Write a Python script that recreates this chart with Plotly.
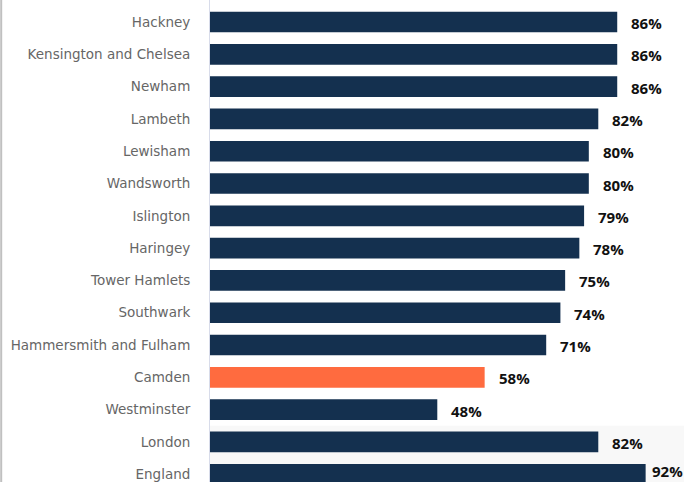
import plotly.graph_objects as go

categories = ["Hackney", "Kensington and Chelsea", "Newham", "Lambeth", "Lewisham",
              "Wandsworth", "Islington", "Haringey", "Tower Hamlets", "Southwark",
              "Hammersmith and Fulham", "Camden", "Westminster", "London", "England"]
values = [86, 86, 86, 82, 80, 80, 79, 78, 75, 74, 71, 58, 48, 82, 92]
highlight = "Camden"

NAVY = "#14304f"
ORANGE = "#ff6b3f"
colors = [ORANGE if c == highlight else NAVY for c in categories]
XMAX = 100.1

fig = go.Figure()
fig.add_trace(go.Bar(
    x=values, y=categories, orientation="h",
    marker=dict(color=colors, line=dict(width=0)),
    width=0.64, hoverinfo="skip",
))

px_per_unit = 474 / XMAX
for c, v in zip(categories, values):
    font = dict(family="Open Sans", size=15, color="#111111", weight="bold")
    if (XMAX - v) * px_per_unit < 14 + 31:
        # keep the label inside the chart: pin it to the right edge
        fig.add_annotation(x=1, xref="paper", y=c, text=f"{v}%", showarrow=False,
                           xanchor="right", xshift=0, yshift=3, borderpad=0, font=font)
    else:
        fig.add_annotation(x=v, y=c, text=f"{v}%", showarrow=False,
                           xanchor="left", xshift=12, yshift=-1, font=font)

# faint band behind the comparison rows
fig.add_shape(type="rect", xref="paper", yref="y", x0=0, x1=1, y0=12.5, y1=15,
              fillcolor="#f8f8f8", line=dict(width=0), layer="below")
# left border line
fig.add_shape(type="line", xref="paper", yref="paper", x0=-0.4405, x1=-0.4405, y0=0, y1=1,
              line=dict(color="#c0c0c0", width=2))

fig.update_layout(
    width=684, height=482,
    margin=dict(l=210, r=0, t=0, b=0),
    paper_bgcolor="white", plot_bgcolor="white",
    showlegend=False,
    bargap=0.36,
    xaxis=dict(range=[0, XMAX], visible=False, fixedrange=True),
    yaxis=dict(range=[14.24, -0.681], showgrid=False, zeroline=False,
               showline=True, linecolor="#d8dcea", linewidth=1,
               ticks="", ticklabelstandoff=16,
               tickfont=dict(family="DejaVu Sans", size=13.5, color="#666666")),
)

fig.write_html("out.html", config={"displayModeBar": False},
               post_script="document.body.style.margin='0';document.body.style.overflow='hidden';")
